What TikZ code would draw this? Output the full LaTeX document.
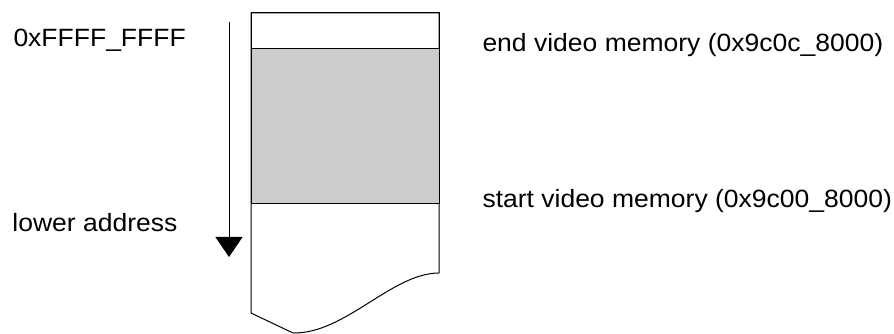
\documentclass[tikz,border=0pt]{standalone}
\usepackage{fontspec}
\setmainfont{Liberation Sans}[FakeStretch=1.06]
\usepackage{tikz}
\usetikzlibrary{arrows.meta, positioning}
\definecolor{vramgray}{HTML}{CCCCCC}
\tikzstyle{lbl}=[anchor=base west,inner sep=0pt,font=\fontsize{25}{30}\selectfont]
\tikzstyle{region}=[draw,line width=1pt,minimum width=188pt,inner sep=0pt,outer sep=0pt]

\begin{document}
\begin{tikzpicture}[x=1pt,y=1pt,line width=1pt]
  \useasboundingbox (0,0) rectangle (894,334);
  % memory column with torn-off bottom
  \draw (251,321) -- (439,321) -- (439,61)
    .. controls (392,61) and (345,0) .. (293,1) -- (251,21) -- cycle;
  \node[region,minimum height=36pt,anchor=north west] (hdr) at (251,321) {};
  \node[region,fill=vramgray,minimum height=155pt,anchor=north] (vram) at (hdr.south) {};
  % address direction
  \coordinate (hi) at (229,312);
  \coordinate (lo) at (229,77);
  \draw[-{Triangle[width=27pt,length=20pt]}] (hi) -- (lo);
  \node[lbl] (top) at (13,287) {0xFFFF\_FFFF};
  \node[lbl] (low) at (12,102) {lower address};
  \node[lbl] (vend) at (482,282) {end video memory (0x9c0c\_8000)};
  \node[lbl] (vstart) at (482,126) {start video memory (0x9c00\_8000)};
\end{tikzpicture}
\end{document}
